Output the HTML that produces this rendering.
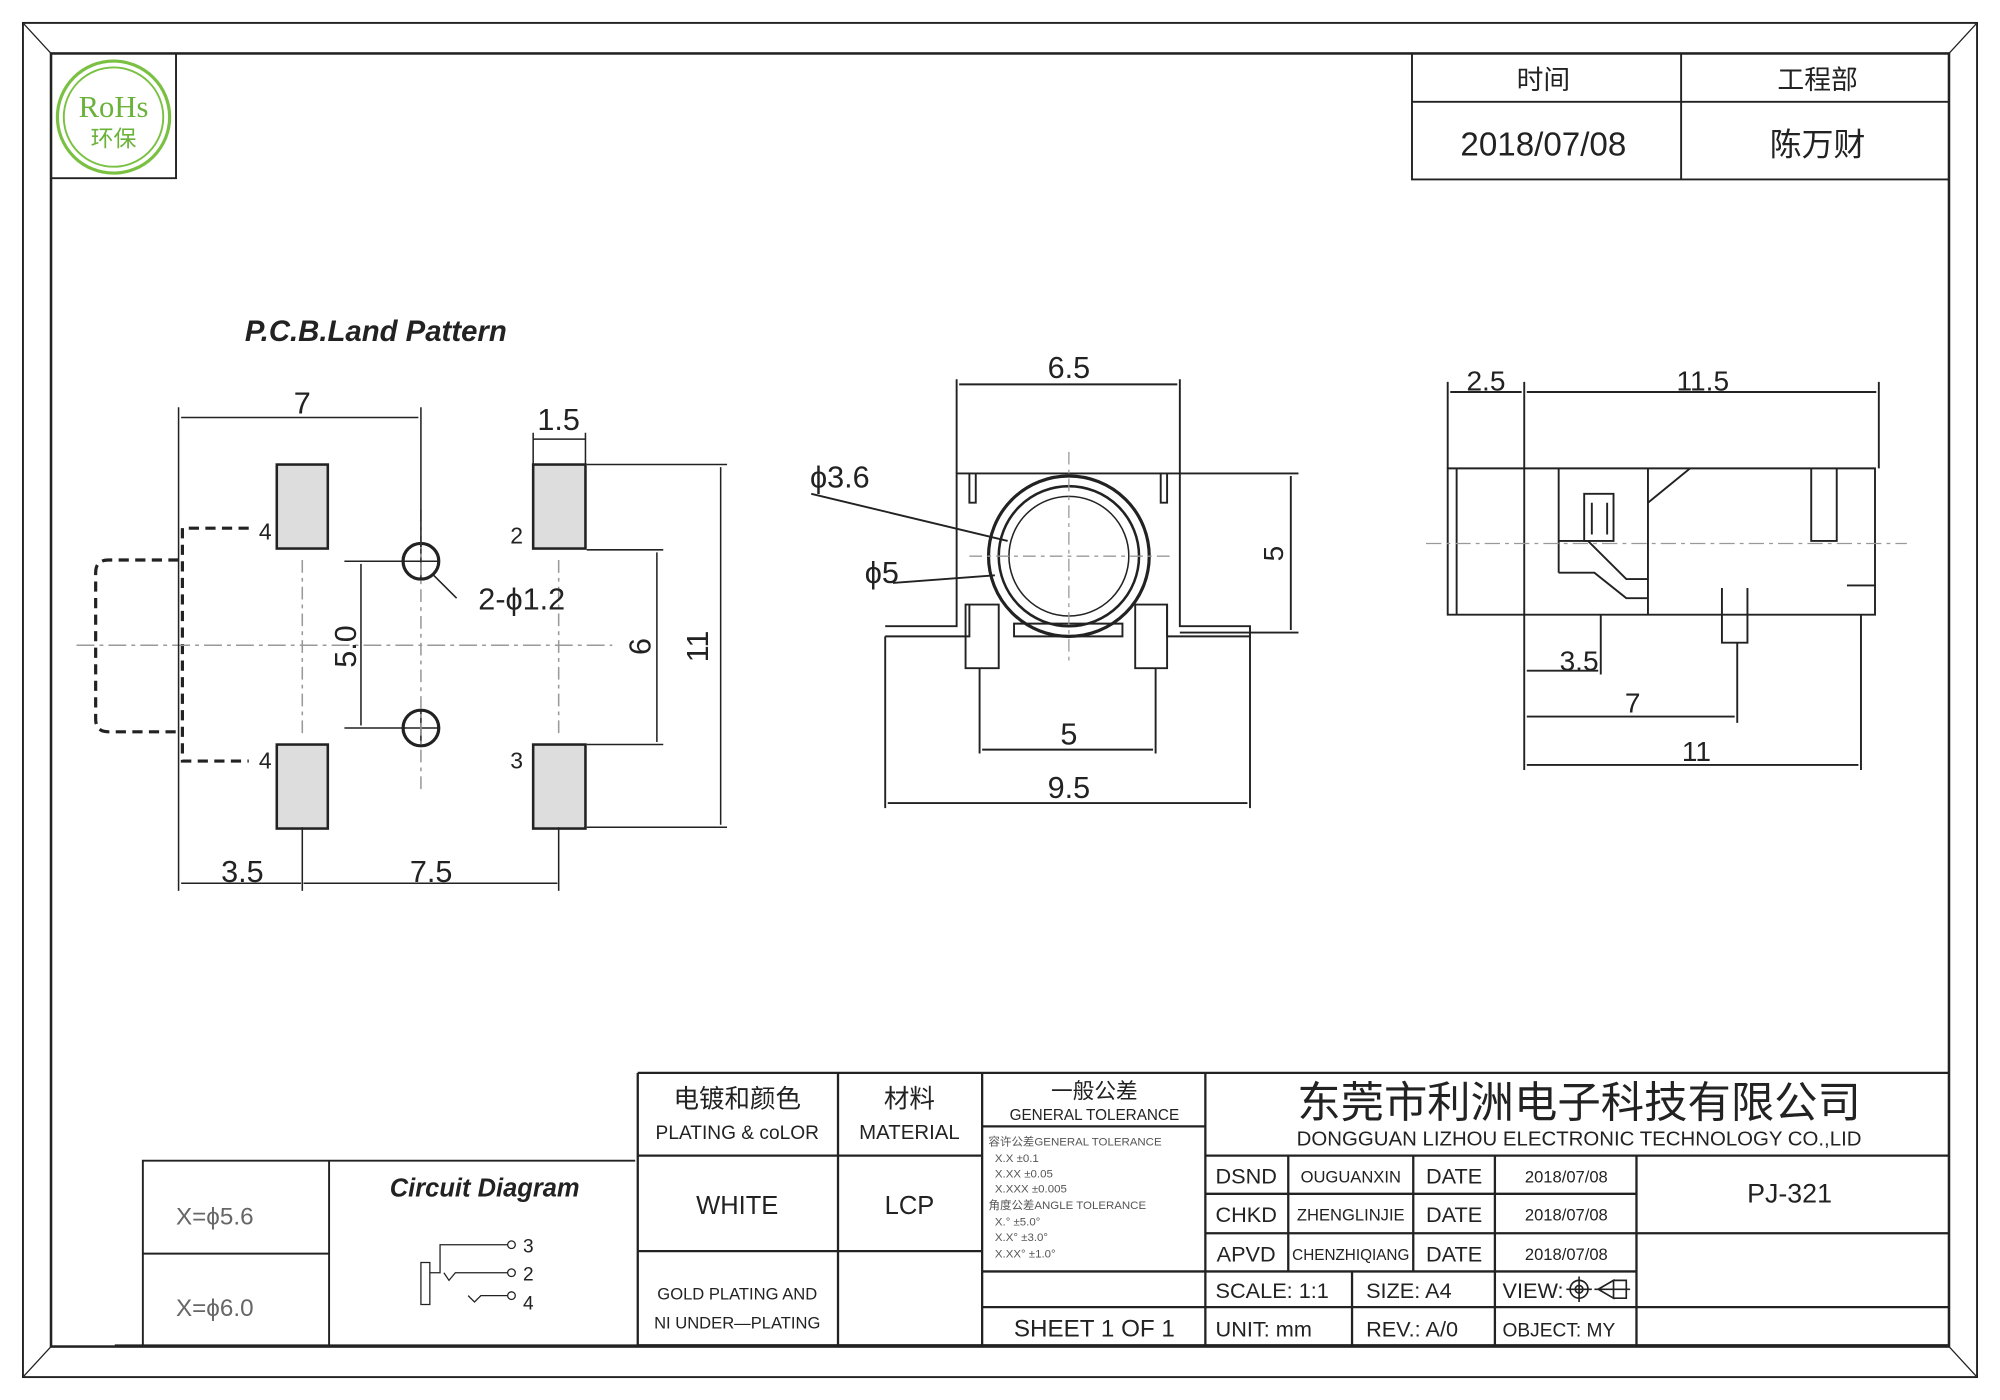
<!DOCTYPE html>
<html><head><meta charset="utf-8"><style>
html,body{margin:0;padding:0;background:#fff;}
svg{display:block;}
text{font-family:"Liberation Sans","Noto Sans CJK SC",sans-serif;fill:#222;}
</style></head><body>
<svg width="2000" height="1400" viewBox="0 0 1568 1100" preserveAspectRatio="none" xmlns="http://www.w3.org/2000/svg">
<rect width="1568" height="1100" fill="#fff"/>
<g stroke="#222" fill="none">
<rect x="18" y="18" width="1532" height="1064" stroke-width="1.5"/>
<rect x="40" y="42" width="1488" height="1016" stroke-width="2"/>
<line x1="18" y1="18" x2="40" y2="42"/><line x1="1550" y1="18" x2="1528" y2="42"/>
<line x1="18" y1="1082" x2="40" y2="1058"/><line x1="1550" y1="1082" x2="1528" y2="1058"/>
<!-- rohs -->
<path d="M40 140 H138 V42" stroke-width="1.5"/>
<!-- top right table -->
<path d="M1107 42 V141 H1528 M1318 42 V141 M1107 80 H1528" stroke-width="1.5"/>
</g>
<circle cx="89" cy="92" r="44" fill="none" stroke="#7ac143" stroke-width="2.5"/>
<circle cx="89" cy="92" r="39" fill="none" stroke="#7ac143" stroke-width="1.5"/>
<text x="89" y="92" font-family="Liberation Serif" font-size="24" text-anchor="middle" style="fill:#6ab23a;font-family:'Liberation Serif',serif">RoHs</text>
<text x="89" y="115" font-size="18" text-anchor="middle" style="fill:#6ab23a">环保</text>
<text x="1210" y="70" font-size="21" text-anchor="middle">时间</text>
<text x="1425" y="70" font-size="21" text-anchor="middle">工程部</text>
<text x="1210" y="122" font-size="26" text-anchor="middle">2018/07/08</text>
<text x="1425" y="122" font-size="25" text-anchor="middle">陈万财</text>

<!-- PCB land pattern -->
<text x="192" y="268" font-size="23" font-weight="bold" font-style="italic">P.C.B.Land Pattern</text>
<g stroke="#222" stroke-width="1.2" fill="none">
<rect x="217" y="365" width="40" height="66" fill="#ddd" stroke-width="2"/>
<rect x="418" y="365" width="41" height="66" fill="#ddd" stroke-width="2"/>
<rect x="217" y="585" width="40" height="66" fill="#ddd" stroke-width="2"/>
<rect x="418" y="585" width="41" height="66" fill="#ddd" stroke-width="2"/>
<circle cx="330" cy="441" r="14" stroke-width="2.5"/>
<circle cx="330" cy="572" r="14" stroke-width="2.5"/>
<path d="M316 441H344M330 427V455M316 572H344M330 558V586"/>
<path d="M340 452 L358 470"/>
<path d="M195 415 H143 V598 H195" stroke-dasharray="8,5" stroke-width="2.5"/>
<path d="M140 440 H85 Q75 440 75 450 V565 Q75 575 85 575 H140" stroke-dasharray="8,5" stroke-width="2.5"/>
<path d="M60 507 H480" stroke-dasharray="14,4,3,4" stroke="#999"/>
<path d="M237 440 V580 M438 440 V580 M330 400 V620" stroke-dasharray="10,4,3,4" stroke="#999"/>
<path d="M140 320 V700 M330 320 V430 M142 328 H328"/>
<path d="M418 340 V365 M459 340 V365 M418 345 H459"/>
<path d="M237 650 V700 M438 650 V700 M142 694 H236 M238 694 H437"/>
<path d="M270 441 H318 M270 572 H318 M283 443 V570"/>
<path d="M460 432 H520 M460 585 H520 M515 434 V583"/>
<path d="M460 365 H570 M460 650 H570 M565 367 V648"/>
</g>
<text x="237" y="325" font-size="24" text-anchor="middle">7</text>
<text x="438" y="338" font-size="24" text-anchor="middle">1.5</text>
<text x="203" y="424" font-size="18">4</text><text x="203" y="604" font-size="18">4</text>
<text x="400" y="427" font-size="18">2</text><text x="400" y="604" font-size="18">3</text>
<text x="375" y="479" font-size="24">2-ϕ1.2</text>
<text x="190" y="693" font-size="24" text-anchor="middle">3.5</text>
<text x="338" y="693" font-size="24" text-anchor="middle">7.5</text>
<text transform="translate(279,508) rotate(-90)" font-size="24" text-anchor="middle">5.0</text>
<text transform="translate(510,508) rotate(-90)" font-size="24" text-anchor="middle">6</text>
<text transform="translate(555,508) rotate(-90)" font-size="24" text-anchor="middle">11</text>

<!-- front view -->
<g stroke="#222" stroke-width="1.5" fill="none">
<path d="M694 500 H760 V475 M694 492 H750 V372 H925 V492 H980 V500 H915 V475"/>
<path d="M760 372 V395 H765 V372 M910 372 V395 H915 V372"/>
<circle cx="838" cy="437" r="63" stroke-width="2.5"/>
<circle cx="838" cy="437" r="55" stroke-width="2"/>
<circle cx="838" cy="437" r="47" stroke-width="1.2"/>
<path d="M757 475 H783 V525 H757 Z M890 475 H915 V525 H890 Z M795 490 H880 V500 H795 Z"/>
<path d="M750 298 V372 M925 298 V372 M752 302 H923"/>
<path d="M925 372 H1018 M925 497 H1018 M1012 374 V495"/>
<path d="M768 525 V592 M906 525 V592 M770 589 H904"/>
<path d="M694 500 V635 M980 500 V635 M696 631 H978"/>
<path d="M636 388 L790 425 M700 458 L780 452"/>
<path d="M838 355 V520 M760 437 H920" stroke="#999" stroke-dasharray="10,4,3,4" stroke-width="1"/>
</g>
<text x="838" y="297" font-size="24" text-anchor="middle">6.5</text>
<text x="635" y="383" font-size="24">ϕ3.6</text>
<text x="678" y="458" font-size="24">ϕ5</text>
<text transform="translate(1006,435) rotate(-90)" font-size="22" text-anchor="middle">5</text>
<text x="838" y="585" font-size="24" text-anchor="middle">5</text>
<text x="838" y="627" font-size="24" text-anchor="middle">9.5</text>

<!-- side view -->
<g stroke="#222" stroke-width="1.5" fill="none">
<path d="M1135 368 H1470 V483 H1135 Z M1142 368 V483 M1195 368 V483 M1222 368 V450 M1292 368 V483"/>
<path d="M1222 450 H1250 L1275 470 H1292 M1222 425 H1245 L1275 455 H1292"/>
<path d="M1242 388 H1265 V425 H1242 Z M1248 395 V420 M1260 395 V420"/>
<path d="M1292 395 L1325 368 M1420 368 V425 H1440 V368 M1448 460 H1470"/>
<path d="M1350 462 V505 H1370 V462"/>
<path d="M1118 427 H1495" stroke="#999" stroke-dasharray="12,4,3,4" stroke-width="1"/>
<path d="M1135 300 V368 M1195 300 V368 M1473 300 V368 M1137 308 H1193 M1197 308 H1471"/>
<path d="M1195 483 V605 M1255 483 V530 M1362 505 V568 M1459 483 V605 M1197 527 H1253 M1197 563 H1360 M1197 601 H1457"/>
</g>
<text x="1165" y="307" font-size="22" text-anchor="middle">2.5</text>
<text x="1335" y="307" font-size="22" text-anchor="middle">11.5</text>
<text x="1238" y="527" font-size="22" text-anchor="middle">3.5</text>
<text x="1280" y="560" font-size="22" text-anchor="middle">7</text>
<text x="1330" y="598" font-size="22" text-anchor="middle">11</text>

<!-- circuit box -->
<g stroke="#222" fill="none" stroke-width="1.5">
<path d="M112 1057 V912 H498 M258 912 V1057 M112 985 H258 M90 1057 H500"/>
<path d="M330 992 V1025 H337 V992 Z M337 1000 L345 1000 L345 978 H398 M348 1000 L352 1006 L357 1000 H398 M367 1018 L372 1023 L377 1018 H398" stroke-width="1"/>
<circle cx="401" cy="978" r="3" stroke-width="1"/><circle cx="401" cy="1000" r="3" stroke-width="1"/><circle cx="401" cy="1018" r="3" stroke-width="1"/>
</g>
<text x="138" y="962" font-size="19" style="fill:#666">X=ϕ5.6</text>
<text x="138" y="1034" font-size="19" style="fill:#666">X=ϕ6.0</text>
<text x="380" y="940" font-size="20" font-weight="bold" font-style="italic" text-anchor="middle">Circuit Diagram</text>
<text x="410" y="984" font-size="15">3</text><text x="410" y="1006" font-size="15">2</text><text x="410" y="1029" font-size="15">4</text>

<!-- title block -->
<g stroke="#222" fill="none" stroke-width="1.8">
<path d="M500 843 H1528 M500 843 V1057 H1528 M657 843 V1057 M770 843 V1057 M945 843 V1057"/>
<path d="M500 908 H770 M945 908 H1528 M500 983 H770 M770 885 H945 M770 999 H1283 M770 1027 H1528 M945 938 H1283 M945 969 H1528"/>
<path d="M1010 908 V999 M1108 908 V999 M1172 908 V1057 M1283 908 V1057 M1060 999 V1057"/>
</g>
<text x="578" y="870" font-size="20" text-anchor="middle">电镀和颜色</text>
<text x="578" y="895" font-size="15" text-anchor="middle">PLATING &amp; coLOR</text>
<text x="713" y="870" font-size="20" text-anchor="middle">材料</text>
<text x="713" y="895" font-size="16" text-anchor="middle">MATERIAL</text>
<text x="578" y="954" font-size="20" text-anchor="middle">WHITE</text>
<text x="713" y="954" font-size="20" text-anchor="middle">LCP</text>
<text x="578" y="1021" font-size="13" text-anchor="middle">GOLD PLATING AND</text>
<text x="578" y="1044" font-size="13" text-anchor="middle">NI UNDER—PLATING</text>
<text x="858" y="863" font-size="17" text-anchor="middle">一般公差</text>
<text x="858" y="880" font-size="12" text-anchor="middle">GENERAL TOLERANCE</text>
<g font-size="9" style="fill:#666">
<text x="775" y="900" style="fill:#555">容许公差GENERAL TOLERANCE</text>
<text x="780" y="913" style="fill:#555">X.X   ±0.1</text>
<text x="780" y="925" style="fill:#555">X.XX  ±0.05</text>
<text x="780" y="937" style="fill:#555">X.XXX ±0.005</text>
<text x="775" y="950" style="fill:#555">角度公差ANGLE TOLERANCE</text>
<text x="780" y="963" style="fill:#555">X.°   ±5.0°</text>
<text x="780" y="975" style="fill:#555">X.X°  ±3.0°</text>
<text x="780" y="988" style="fill:#555">X.XX° ±1.0°</text>
</g>
<text x="858" y="1050" font-size="19" text-anchor="middle">SHEET 1 OF 1</text>
<text x="1238" y="878" font-size="34" text-anchor="middle">东莞市利洲电子科技有限公司</text>
<text x="1238" y="900" font-size="16" text-anchor="middle">DONGGUAN LIZHOU ELECTRONIC TECHNOLOGY CO.,LID</text>
<g font-size="17" text-anchor="middle">
<text x="977" y="930">DSND</text><text x="977" y="960">CHKD</text><text x="977" y="991">APVD</text>
<text x="1140" y="930">DATE</text><text x="1140" y="960">DATE</text><text x="1140" y="991">DATE</text>
</g>
<g font-size="13" text-anchor="middle">
<text x="1059" y="929">OUGUANXIN</text><text x="1059" y="959">ZHENGLINJIE</text><text x="1059" y="990" font-size="12">CHENZHIQIANG</text>
<text x="1228" y="929">2018/07/08</text><text x="1228" y="959">2018/07/08</text><text x="1228" y="990">2018/07/08</text>
</g>
<text x="1403" y="945" font-size="21" text-anchor="middle">PJ-321</text>
<g font-size="17">
<text x="953" y="1020">SCALE: 1:1</text><text x="1071" y="1020">SIZE: A4</text><text x="1178" y="1020">VIEW:</text>
<text x="953" y="1050">UNIT: mm</text><text x="1071" y="1050">REV.: A/0</text><text x="1178" y="1050" font-size="15">OBJECT: MY</text>
</g>
<g stroke="#222" fill="none" stroke-width="1.3">
<circle cx="1238" cy="1013" r="7"/><circle cx="1238" cy="1013" r="3"/><path d="M1228 1013H1248M1238 1003V1023"/>
<path d="M1253 1013 L1265 1006 V1020 Z M1250 1013 H1278 M1265 1006 H1275 V1020 H1265"/>
</g>
</svg>
</body></html>
